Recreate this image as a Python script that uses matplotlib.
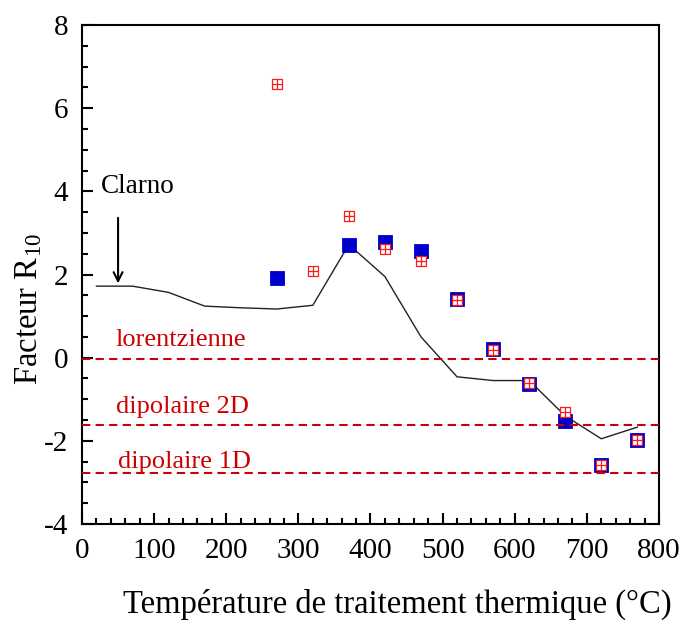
import numpy as np
import matplotlib
matplotlib.use('Agg')
import matplotlib.pyplot as plt
from matplotlib.ticker import MultipleLocator

plt.rcParams.update({
    'font.family': ['Liberation Serif', 'DejaVu Serif'],
    'mathtext.fontset': 'custom',
    'mathtext.rm': 'Liberation Serif',
    'mathtext.it': 'Liberation Serif:italic',
    'axes.linewidth': 1.5,
    'axes.unicode_minus': False,
})

# black line (model)
line_t = [20, 70, 120, 170, 220, 270, 320, 370, 420, 470, 520, 570, 620, 670, 720, 770]
line_r = [1.72, 1.72, 1.57, 1.24, 1.20, 1.17, 1.26, 2.72, 1.95, 0.50, -0.46, -0.55, -0.55, -1.40, -1.95, -1.67]

# blue filled squares
blue_t = [270, 370, 420, 470, 520, 570, 620, 670, 720, 770]
blue_r = [1.92, 2.71, 2.78, 2.57, 1.40, 0.22, -0.64, -1.52, -2.57, -1.98]

# red grid squares
red_t = [270, 320, 370, 420, 470, 520, 570, 620, 670, 720, 770]
red_r = [6.58, 2.09, 3.41, 2.61, 2.33, 1.39, 0.19, -0.60, -1.30, -2.57, -1.99]

# reference levels
ref_labels = ['lorentzienne', 'dipolaire 2D', 'dipolaire 1D']
ref_levels = [-0.04, -1.61, -2.77]

fig = plt.figure(figsize=(6.8, 6.2), dpi=100)
ax = fig.add_axes([0.1206, 0.1548, 0.8485, 0.8049])

ax.plot(line_t, line_r, color='#222222', lw=1.0, zorder=1)
ax.plot(blue_t, blue_r, 's', ms=10, mfc='#0000cc', mec='#0000cc', mew=0.6, ls='none', zorder=2)
ax.plot(red_t, red_r, 's', ms=7.5, mfc='white', mec='#ff1a1a', mew=0.9, ls='none', zorder=3)
ax.plot(red_t, red_r, '+', ms=7.5, mec='#ff1a1a', mew=0.9, ls='none', zorder=4)

text_pos = [(47, 0.28), (47, -1.32), (50, -2.66)]
for lab, lev, (tx, ty) in zip(ref_labels, ref_levels, text_pos):
    ax.axhline(lev, color='#cc0000', lw=1.5, dashes=(4, 2.5), zorder=5)
    ax.text(tx, ty, lab, color='#cc0000', fontsize=19, ha='left', va='baseline')

ax.annotate('', xy=(50, 1.72), xytext=(50, 3.43),
            arrowprops=dict(arrowstyle='->', color='black', lw=1.5, mutation_scale=16))
ax.text(26, 3.96, 'Clarno', fontsize=19.5, ha='left', va='baseline')

ax.set_xlim(0, 800)
ax.set_ylim(-4, 8)
ax.xaxis.set_major_locator(MultipleLocator(100))
ax.xaxis.set_minor_locator(MultipleLocator(20))
ax.yaxis.set_major_locator(MultipleLocator(2))
ax.yaxis.set_minor_locator(MultipleLocator(0.5))
ax.tick_params(which='both', direction='in', top=False, right=False, labelsize=21, pad=10)
ax.tick_params(which='major', length=8, width=1.5)
ax.tick_params(which='minor', length=4, width=1.5)

ax.set_xlabel('Température de traitement thermique (°C)', fontsize=23.5)
ax.set_ylabel('Facteur R$_{10}$', fontsize=23.5)
ax.xaxis.set_label_coords(0.547, -0.13)
ax.yaxis.set_label_coords(-0.065, 0.43)

fig.savefig('out.png', dpi=100)
